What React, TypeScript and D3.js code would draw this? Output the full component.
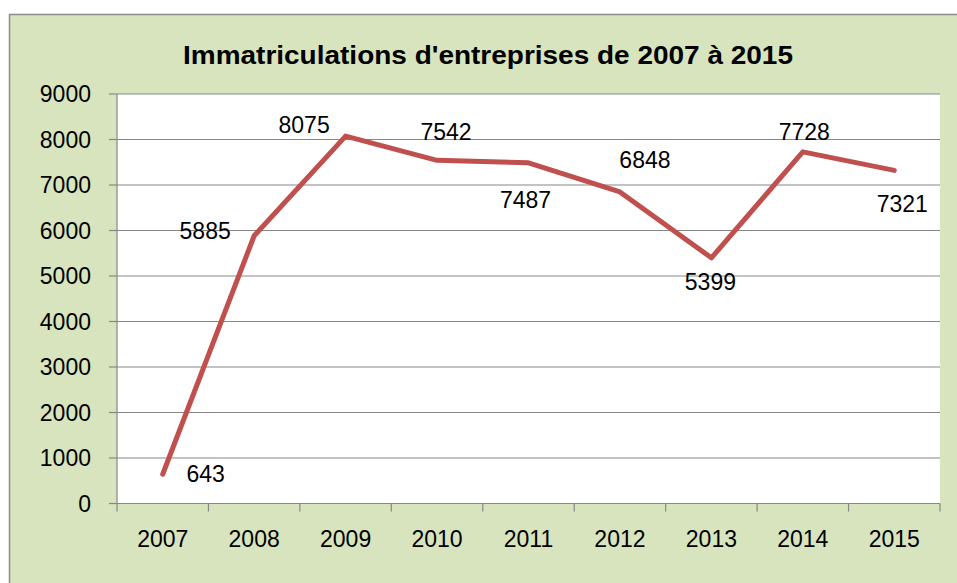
import React from "react";
import * as d3 from "d3";

const title = "Immatriculations d'entreprises de 2007 à 2015";
const years = ["2007", "2008", "2009", "2010", "2011", "2012", "2013", "2014", "2015"];
const values = [643, 5885, 8075, 7542, 7487, 6848, 5399, 7728, 7321];
const yTicks = [0, 1000, 2000, 3000, 4000, 5000, 6000, 7000, 8000, 9000];
// label offsets (layout only) relative to the data point: [dx, dy]
const labelOffsets: [number, number][] = [
  [43, 0], [-49, -5], [-41.5, -11.5], [9, -28], [-3, 37.5],
  [25, -31.5], [-1, 24.5], [1.5, -19.5], [8, 33.5],
];

const W = 957;
const H = 583;
const plot = { left: 117, right: 940, top: 94, bottom: 503.5 };
const FONT = "'Liberation Sans', Arial, sans-serif";
const GRID = "#878787";

export default function App() {
  const x = d3.scaleBand<string>().domain(years).range([plot.left, plot.right]).padding(0);
  const y = d3.scaleLinear().domain([0, 9000]).range([plot.bottom, plot.top]);
  const cx = (d: string) => (x(d) as number) + x.bandwidth() / 2;
  const line = d3
    .line<number>()
    .x((_, i) => cx(years[i]))
    .y((v) => y(v));
  const boundaries = years.map((d) => x(d) as number).concat([plot.right]);

  return (
    <svg
      width={W}
      height={H}
      style={{ position: "absolute", left: 0, top: 0, background: "#fff" }}
      fontFamily={FONT}
    >
      <rect x={9.5} y={14.5} width={W + 20} height={H + 20} fill="#D7E4BD" stroke="#8c8c8c" strokeWidth={1.5} />
      <rect x={plot.left} y={plot.top} width={plot.right - plot.left} height={plot.bottom - plot.top} fill="#fff" />
      <text x={488} y={64} textAnchor="middle" fontSize={26} fontWeight="bold" fill="#000" textLength={610} lengthAdjust="spacingAndGlyphs">
        {title}
      </text>
      {yTicks.map((t) => (
        <g key={t}>
          {t > 0 && <line x1={plot.left} x2={plot.right} y1={y(t)} y2={y(t)} stroke={GRID} strokeWidth={1.2} />}
          <line x1={plot.left - 8} x2={plot.left} y1={y(t)} y2={y(t)} stroke={GRID} strokeWidth={1.2} />
          <text x={91} y={y(t)} dy="0.35em" textAnchor="end" fontSize={23} fill="#000">
            {t}
          </text>
        </g>
      ))}
      <line x1={plot.left} x2={plot.left} y1={plot.top} y2={plot.bottom} stroke={GRID} strokeWidth={1.2} />
      <line x1={plot.left} x2={plot.right} y1={plot.bottom} y2={plot.bottom} stroke={GRID} strokeWidth={1.2} />
      {boundaries.map((b, i) => (
        <line key={i} x1={b} x2={b} y1={plot.bottom} y2={plot.bottom + 8} stroke={GRID} strokeWidth={1.2} />
      ))}
      {years.map((d) => (
        <text key={d} x={cx(d)} y={547} textAnchor="middle" fontSize={23} fill="#000">
          {d}
        </text>
      ))}
      <path d={line(values) || ""} fill="none" stroke="#C0504D" strokeWidth={5} strokeLinecap="round" strokeLinejoin="round" />
      {values.map((v, i) => (
        <text
          key={i}
          x={cx(years[i]) + labelOffsets[i][0]}
          y={y(v) + labelOffsets[i][1]}
          dy="0.35em"
          textAnchor="middle"
          fontSize={23}
          fill="#000"
        >
          {v}
        </text>
      ))}
    </svg>
  );
}
